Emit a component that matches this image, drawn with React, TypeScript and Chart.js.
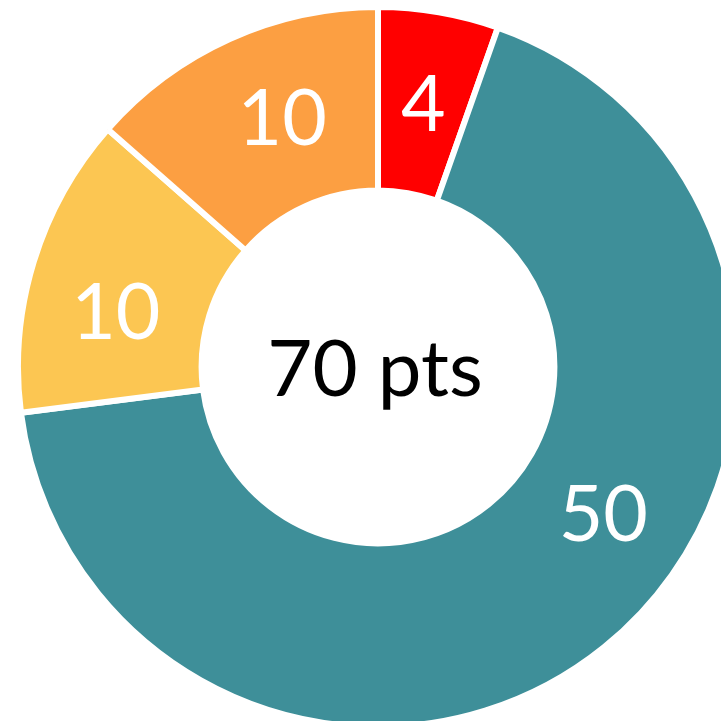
import React, { useEffect, useRef } from "react";
import { Chart, registerables } from "chart.js";

Chart.register(...registerables);

const categories = ["Red", "Teal", "Yellow", "Orange"];
const values = [4, 50, 10, 10];
const sliceColors = ["#FF0000", "#3E8F99", "#FCC652", "#FC9F42"];
const centerLabel = "70 pts";
const FONT = "Lato, 'Open Sans', sans-serif";

// where along each slice (0..1 of its angle) the value label sits
const labelAngleFraction = [0.5, 0.425, 0.4, 0.57];

const labelPlugin = {
  id: "sliceLabels",
  afterDraw(chart: any) {
    const ctx = chart.ctx;
    const meta = chart.getDatasetMeta(0);
    ctx.save();
    ctx.font = `77px ${FONT}`;
    ctx.textAlign = "center";
    ctx.textBaseline = "alphabetic";
    meta.data.forEach((arc: any, i: number) => {
      const p = arc.getProps(["x", "y", "startAngle", "endAngle", "innerRadius", "outerRadius"], true);
      const f = labelAngleFraction[i] ?? 0.5;
      const a = p.startAngle + (p.endAngle - p.startAngle) * f;
      const r = (p.innerRadius + p.outerRadius) / 2;
      const lx = p.x + Math.cos(a) * r;
      const ly = p.y + Math.sin(a) * r;
      const txt = String(values[i]);
      const m = ctx.measureText(txt);
      ctx.fillStyle = "#FFFFFF";
      ctx.fillText(txt, lx, ly + m.actualBoundingBoxAscent / 2);
    });
    const first = meta.data[0];
    if (first) {
      const cx = first.x;
      const cy = first.y;
      ctx.fillStyle = "#000000";
      ctx.font = `78px ${FONT}`;
      const m = ctx.measureText("70");
      ctx.fillText(centerLabel, cx - 3, cy + m.actualBoundingBoxAscent / 2);
    }
    ctx.restore();
  },
};

export default function App() {
  const ref = useRef<HTMLCanvasElement | null>(null);
  useEffect(() => {
    if (!ref.current) return;
    const chart = new Chart(ref.current, {
      type: "doughnut",
      data: {
        labels: categories,
        datasets: [
          {
            data: values,
            backgroundColor: sliceColors,
            borderColor: "#FFFFFF",
            borderWidth: 6,
          },
        ],
      },
      options: {
        animation: false,
        responsive: true,
        maintainAspectRatio: false,
        cutout: "49%",
        layout: { padding: 0 },
        plugins: {
          legend: { display: false },
          tooltip: { enabled: false },
        },
      },
      plugins: [labelPlugin],
    });
    return () => chart.destroy();
  }, []);

  return (
    <div
      style={{
        position: "absolute",
        left: 0,
        top: 0,
        width: 721,
        height: 721,
        overflow: "hidden",
        background: "#FFFFFF",
      }}
    >
      <div style={{ position: "absolute", left: 15, top: 4, width: 726, height: 726 }}>
        <canvas ref={ref} />
      </div>
    </div>
  );
}
